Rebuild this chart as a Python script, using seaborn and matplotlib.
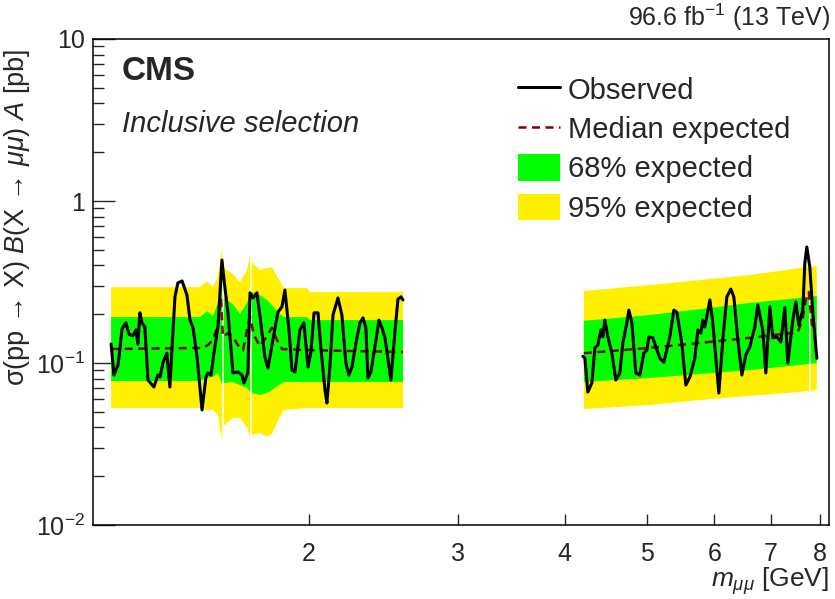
import numpy as np
import pandas as pd
import seaborn as sns
import matplotlib
matplotlib.use("Agg")
import matplotlib.pyplot as plt
from matplotlib.lines import Line2D
from matplotlib.patches import Patch
from matplotlib.ticker import FixedLocator, NullLocator

# observed limit, low-mass window (GeV, pb)
obs_mass_lo = [1.170, 1.179, 1.192, 1.198, 1.205, 1.218, 1.228, 1.241, 1.252, 1.258,
               1.265, 1.272, 1.282, 1.293, 1.314, 1.328, 1.336, 1.347, 1.361, 1.372,
               1.391, 1.402, 1.418, 1.437, 1.449, 1.461, 1.477, 1.497, 1.513, 1.521,
               1.534, 1.546, 1.563, 1.580, 1.589, 1.606, 1.628, 1.650, 1.668, 1.677,
               1.695, 1.705, 1.719, 1.737, 1.751, 1.775, 1.790, 1.814, 1.839, 1.859,
               1.874, 1.895, 1.910, 1.926, 1.952, 1.973, 1.995, 2.011, 2.028, 2.050,
               2.066, 2.089, 2.100, 2.117, 2.135, 2.164, 2.187, 2.211, 2.229, 2.248,
               2.272, 2.297, 2.316, 2.334, 2.347, 2.366, 2.392, 2.418, 2.438, 2.458,
               2.498, 2.525, 2.546, 2.567, 2.581]
obs_lim_lo = [0.131, 0.0843, 0.0972, 0.120, 0.162, 0.177, 0.151, 0.147, 0.160, 0.131,
              0.204, 0.177, 0.167, 0.0785, 0.0711, 0.0843, 0.0820, 0.101, 0.115, 0.0711,
              0.256, 0.312, 0.321, 0.263, 0.184, 0.165, 0.109, 0.0513, 0.0820, 0.0868,
              0.0843, 0.115, 0.167, 0.432, 0.325, 0.204, 0.0868, 0.0880, 0.0843, 0.0753,
              0.0868, 0.271, 0.252, 0.271, 0.198, 0.109, 0.0931, 0.139, 0.206, 0.222,
              0.282, 0.160, 0.0905, 0.0880, 0.160, 0.177, 0.0945, 0.117, 0.204, 0.204,
              0.124, 0.0681, 0.0566, 0.0945, 0.198, 0.252, 0.198, 0.100, 0.0843, 0.0945,
              0.133, 0.177, 0.190, 0.165, 0.0808, 0.0880, 0.126, 0.184, 0.165, 0.143,
              0.0785, 0.155, 0.248, 0.256, 0.245]

# observed limit, high-mass window
obs_mass_hi = [4.203, 4.226, 4.260, 4.307, 4.342, 4.377, 4.413, 4.437, 4.461, 4.498,
               4.547, 4.596, 4.646, 4.684, 4.735, 4.761, 4.800, 4.852, 4.905, 4.958,
               4.999, 5.026, 5.081, 5.122, 5.178, 5.235, 5.320, 5.378, 5.422, 5.496,
               5.556, 5.617, 5.693, 5.740, 5.787, 5.818, 5.850, 5.930, 5.978, 6.043,
               6.076, 6.142, 6.209, 6.277, 6.328, 6.397, 6.467, 6.537, 6.608, 6.699,
               6.753, 6.845, 6.901, 6.977, 7.034, 7.110, 7.188, 7.266, 7.325, 7.425,
               7.486, 7.547, 7.629, 7.671, 7.712, 7.775, 7.839, 7.924]
obs_lim_hi = [0.110, 0.107, 0.0662, 0.0753, 0.124, 0.129, 0.160, 0.145, 0.184, 0.145,
              0.115, 0.0785, 0.0868, 0.133, 0.177, 0.212, 0.177, 0.0868, 0.0843, 0.115,
              0.120, 0.145, 0.143, 0.126, 0.107, 0.101, 0.145, 0.212, 0.206, 0.133,
              0.0731, 0.0820, 0.107, 0.160, 0.153, 0.184, 0.167, 0.245, 0.177, 0.0905,
              0.0653, 0.139, 0.256, 0.286, 0.256, 0.139, 0.0843, 0.112, 0.126, 0.167,
              0.228, 0.160, 0.0868, 0.222, 0.143, 0.145, 0.135, 0.219, 0.100, 0.184,
              0.238, 0.172, 0.212, 0.414, 0.520, 0.391, 0.204, 0.107]

# median expected
med_mass_lo = [1.170, 1.501, 1.521, 1.542, 1.563, 1.576, 1.584, 1.606, 1.628, 1.650, 1.673,
               1.691, 1.705, 1.723, 1.751, 1.780, 1.809, 1.834, 1.859, 2.006, 2.581]
med_lim_lo = [0.122, 0.124, 0.129, 0.139, 0.172, 0.252, 0.145, 0.153, 0.145, 0.129, 0.120,
              0.160, 0.192, 0.149, 0.127, 0.143, 0.165, 0.139, 0.122, 0.120, 0.117]
med_mass_hi = [4.214, 5.040, 5.771, 6.608, 7.527, 7.629, 7.692, 7.754, 7.818, 7.924]
med_lim_hi = [0.115, 0.124, 0.133, 0.143, 0.155, 0.190, 0.245, 0.274, 0.172, 0.167]

# expected bands (nan = vetoed mass point)
nan = np.nan
band_mass_lo = [1.170, 1.489, 1.517, 1.542, 1.563, 1.581, 1.584, 1.588, 1.628, 1.659, 1.691,
                1.7055, 1.709, 1.713, 1.751, 1.785, 1.809, 1.839, 1.869, 1.989, 2.006, 2.581]
up95_lo = [0.294, 0.294, 0.321, 0.294, 0.340, 0.528, nan, 0.386, 0.354, 0.316, 0.375,
           0.464, nan, 0.420, 0.375, 0.386, 0.391, 0.335, 0.290, 0.290, 0.274, 0.274]
up68_lo = [0.192, 0.192, 0.209, 0.195, 0.235, 0.335, nan, 0.252, 0.231, 0.201, 0.235,
           0.263, nan, 0.274, 0.263, 0.245, 0.228, 0.206, 0.192, 0.192, 0.184, 0.184]
dn68_lo = [0.0774, 0.0774, 0.0808, 0.0820, 0.0868, 0.0731, nan, 0.0753, 0.0763, 0.0731, 0.0701,
           0.0662, nan, 0.0653, 0.0635, 0.0653, 0.0681, 0.0721, 0.0763, 0.0763, 0.0763, 0.0763]
dn95_lo = [0.0528, 0.0528, 0.0513, 0.0513, 0.0478, 0.0330, nan, 0.0410, 0.0458, 0.0458, 0.0400,
           0.0350, nan, 0.0360, 0.0370, 0.0350, 0.0365, 0.0440, 0.0513, 0.0528, 0.0528, 0.0528]

band_mass_hi = [4.214, 5.040, 5.771, 6.608, 7.567, 7.758, 7.775, 7.792, 7.924]
up95_hi = [0.278, 0.303, 0.325, 0.349, 0.386, 0.391, nan, 0.391, 0.397]
up68_hi = [0.182, 0.198, 0.215, 0.235, 0.252, 0.256, nan, 0.256, 0.259]
dn68_hi = [0.0763, 0.0808, 0.0855, 0.0905, 0.0972, 0.0986, nan, 0.0986, 0.100]
dn95_hi = [0.0520, 0.0550, 0.0591, 0.0626, 0.0662, 0.0672, nan, 0.0672, 0.0681]

x_ticks = [2, 3, 4, 5, 6, 7, 8]
y_ticks = [0.01, 0.1, 1, 10]
y_ticklabels = ["$10^{-2}$", "$10^{-1}$", "1", "10"]

GREEN = "#00ff00"
YELLOW = "#fff000"
DARKRED = "#8b0000"

sns.set_style("ticks")
plt.rcParams["font.family"] = ["Liberation Sans", "DejaVu Sans"]
plt.rcParams["mathtext.fontset"] = "custom"
plt.rcParams["mathtext.rm"] = "Liberation Sans"
plt.rcParams["mathtext.it"] = "Liberation Sans:italic"
plt.rcParams["mathtext.bf"] = "Liberation Sans:bold"

fig = plt.figure(figsize=(8.35, 5.99), dpi=100)
ax = fig.add_axes([0.1114, 0.1235, 0.8814, 0.8114])
ax.set_xscale("log")
ax.set_yscale("log")

for m, d95, u95, d68, u68 in [(band_mass_lo, dn95_lo, up95_lo, dn68_lo, up68_lo),
                              (band_mass_hi, dn95_hi, up95_hi, dn68_hi, up68_hi)]:
    ax.fill_between(m, d95, u95, color=YELLOW, lw=0)
    ax.fill_between(m, d68, u68, color=GREEN, lw=0)

for m, v in [(med_mass_lo, med_lim_lo), (med_mass_hi, med_lim_hi)]:
    df = pd.DataFrame({"mass": m, "limit": v})
    sns.lineplot(data=df, x="mass", y="limit", ax=ax, color=DARKRED, lw=1.8,
                 linestyle=(0, (3.2, 2.2)), estimator=None)

for m, v in [(obs_mass_lo, obs_lim_lo), (obs_mass_hi, obs_lim_hi)]:
    df = pd.DataFrame({"mass": m, "limit": v})
    sns.lineplot(data=df, x="mass", y="limit", ax=ax, color="black", lw=2.2,
                 estimator=None)

ax.set_xlim(1.114, 8.19)
ax.set_ylim(0.01, 10)

ax.xaxis.set_major_locator(FixedLocator(x_ticks))
ax.xaxis.set_minor_locator(NullLocator())
ax.set_xticklabels([str(t) for t in x_ticks])
ax.yaxis.set_major_locator(FixedLocator(y_ticks))
minor_y = [k * 10.0 ** e for e in range(-2, 1) for k in range(2, 10)]
ax.yaxis.set_minor_locator(FixedLocator(minor_y))
ax.set_yticklabels(y_ticklabels)
ax.tick_params(axis="x", which="major", direction="in", length=8, width=1,
               labelsize=18, pad=12)
ax.tick_params(axis="y", which="major", direction="in", length=16, width=1,
               labelsize=18, pad=6)
ax.tick_params(axis="y", which="minor", direction="in", length=8, width=1)
for s in ax.spines.values():
    s.set_visible(True)
    s.set_linewidth(1.1)
    s.set_color("black")

ax.set_xlabel(r"$m_{\mu\mu}$ [GeV]", fontsize=19, loc="right", labelpad=0)
ax.set_ylabel(r"σ(pp → X) $\mathit{B}$(X → $\mu\mu$) $\mathit{A}$ [pb]",
              fontsize=19.5, loc="top")
ax.yaxis.set_label_coords(-0.083, 0.981)

ax.text(0.0394, 0.965, "CMS", transform=ax.transAxes, fontsize=24,
        fontweight="bold", va="top", ha="left")
ax.text(0.0394, 0.854, "Inclusive selection", transform=ax.transAxes,
        fontsize=21, style="italic", va="top", ha="left")
ax.text(1.002, 1.012, r"96.6 fb$^{-1}$ (13 TeV)", transform=ax.transAxes,
        fontsize=18, va="bottom", ha="right")

handles = [Line2D([], [], color="black", lw=2.2),
           Line2D([], [], color=DARKRED, lw=1.8, linestyle=(0, (3.2, 2.2))),
           Patch(facecolor=GREEN, edgecolor="none"),
           Patch(facecolor=YELLOW, edgecolor="none")]
labels = ["Observed", "Median expected", "68% expected", "95% expected"]
ax.legend(handles, labels, loc="upper left", bbox_to_anchor=(0.5774, 0.924),
          frameon=False, fontsize=21, handlelength=1.45, handleheight=1.0,
          handletextpad=0.25, labelspacing=0.35, borderaxespad=0, borderpad=0)

fig.savefig("out.png", dpi=100)
